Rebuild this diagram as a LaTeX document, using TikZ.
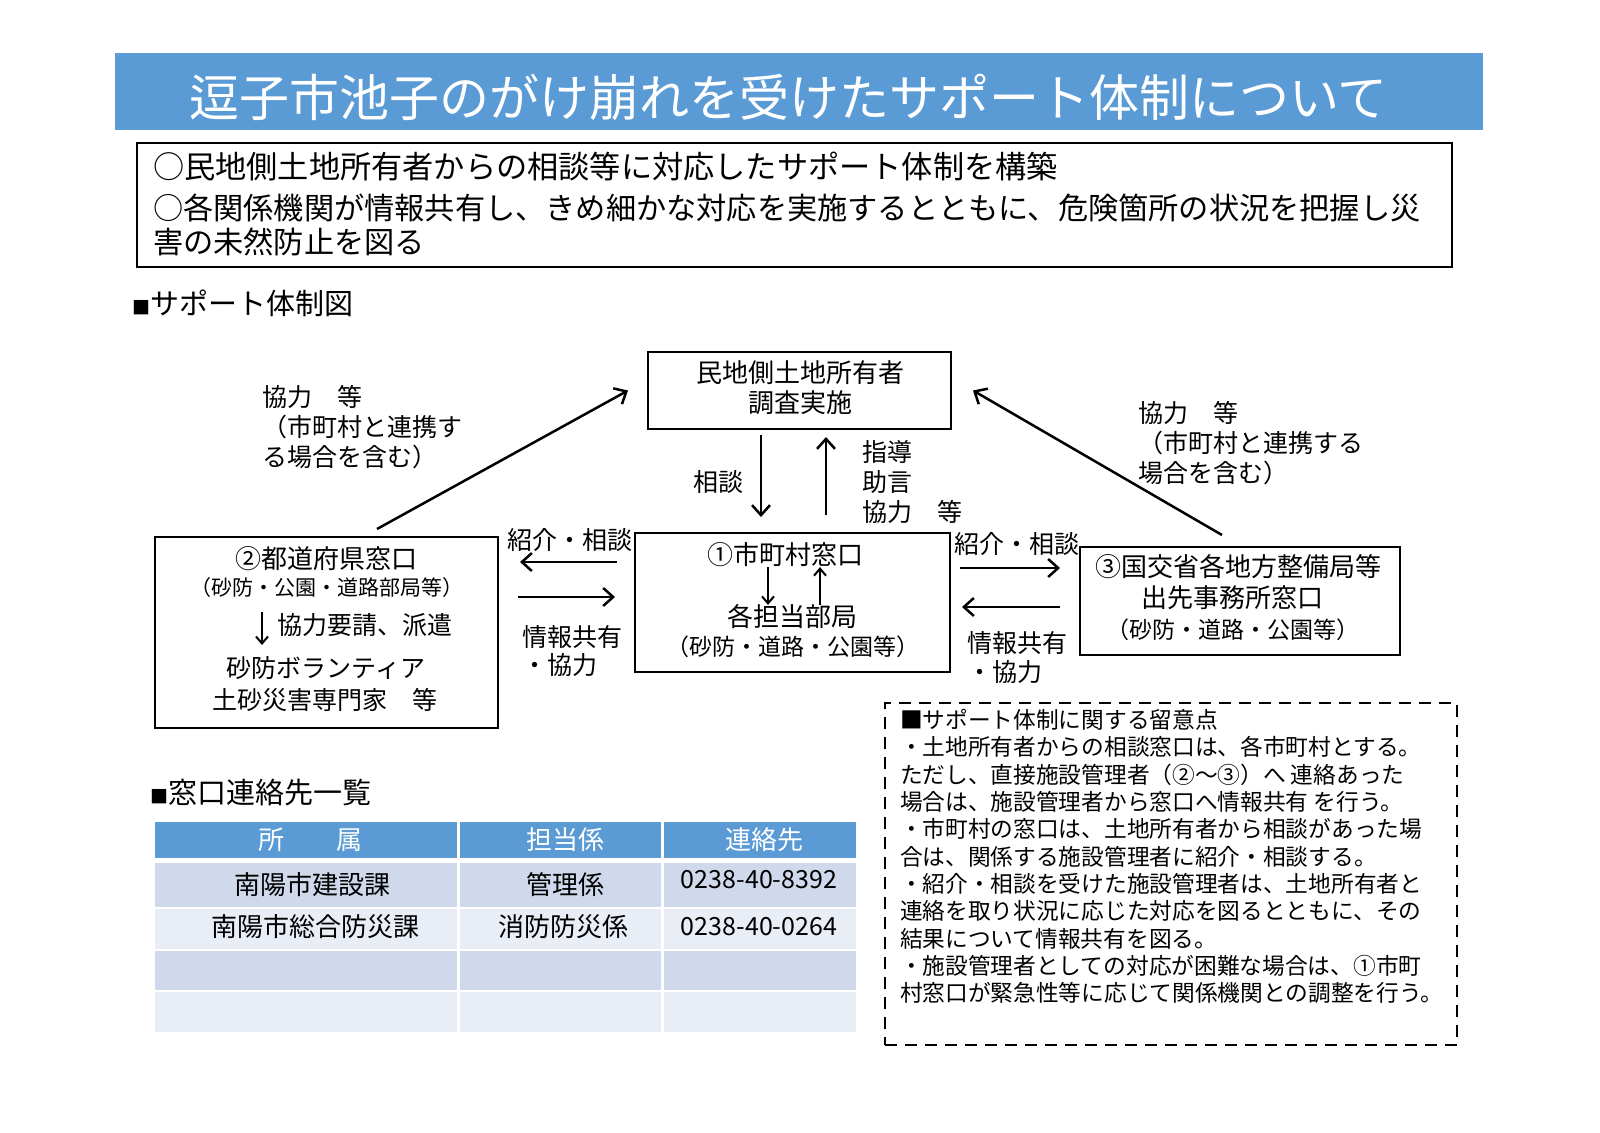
\documentclass[tikz,border=0pt]{standalone}
\usepackage{fontspec}
\setmainfont{Noto Sans CJK JP}
\usetikzlibrary{arrows.meta}
\definecolor{hblue}{RGB}{91,155,213}
\definecolor{rowA}{RGB}{207,217,235}
\definecolor{rowB}{RGB}{232,237,246}
\newcommand\fsz[2]{\fontsize{#1}{#2}\selectfont}
\begin{document}
\begin{tikzpicture}[x=1pt,y=-1pt,
  box/.style={draw,line width=2.8pt,rectangle,inner sep=0pt,outer sep=0pt},
  txt/.style={inner sep=0pt,outer sep=0pt},
  arr/.style={line width=2.5pt,-{Straight Barb[length=10pt,width=18pt]}},
  sarr/.style={line width=2pt,-{Straight Barb[length=7pt,width=12pt]}},
  lbl/.style={txt,font=\fsz{25}{30}},
]
\useasboundingbox[fill=white] (0,0) rectangle (1600,1132);

% title
\node[fill=hblue,inner sep=0pt,outer sep=0pt,minimum width=1368pt,minimum height=77pt,anchor=north west] (titlebar) at (115,53) {};
\node[txt,anchor=west,text=white] (title) at (189,97) {\fsz{50}{55}逗子市池子のがけ崩れを受けたサポート体制について};

% intro
\node[box,anchor=north west,minimum width=1315pt,minimum height=124pt] (intro) at (137,143) {};
\node[txt,anchor=west,align=left,font=\fsz{30.2}{34}] (introtext) at (153,203.5) {{\fsz{31.2}{34}○民地側土地所有者からの相談等に対応したサポート体制を構築}\\[7pt]○各関係機関が情報共有し、きめ細かな対応を実施するとともに、危険箇所の状況を把握し災\\害の未然防止を図る};

\node[txt,anchor=west] (head1) at (132,303) {{\fsz{18}{20}■}\fsz{29}{32}サポート体制図};

% boxes
\node[box,minimum width=303pt,minimum height=77pt] (owner) at (799.5,390.5) {};
\node[txt,align=center,font=\fsz{26}{30}] (ownert) at (800,388) {民地側土地所有者\\調査実施};

\node[box,minimum width=315pt,minimum height=139pt] (muni) at (792.5,602.5) {};
\node[txt] (m1) at (785,555) {\fsz{26}{30}①市町村窓口};
\node[txt] (m2) at (792,617) {\fsz{26}{30}各担当部局};
\node[txt] (m3) at (793,647) {\fsz{23}{28}（砂防・道路・公園等）};
\draw[sarr] ([xshift=-17pt]m1.south) -- ([xshift=-24pt]m2.north);
\draw[sarr] ([xshift=28pt]m2.north) -- ([xshift=35pt]m1.south);

\node[box,minimum width=343pt,minimum height=191pt] (pref) at (326.5,632.5) {};
\node[txt] (p1) at (326,559) {\fsz{26}{30}②都道府県窓口};
\node[txt] (p2) at (327,588) {\fsz{21}{25}（砂防・公園・道路部局等）};
\node[txt,anchor=west] (p3) at (277,625) {\fsz{25}{30}協力要請、派遣};
\node[txt] (p4) at (326,668) {\fsz{25}{30}砂防ボランティア};
\node[txt] (p5) at (325,700) {\fsz{25}{30}土砂災害専門家　等};
\draw[sarr] ([xshift=-15pt,yshift=13pt]p3.west) -- ([xshift=-15pt,yshift=-20pt]p3.west);

\node[box,minimum width=320pt,minimum height=108pt] (nat) at (1240,601) {};
\node[txt] (n1) at (1238,567) {\fsz{26}{30}③国交省各地方整備局等};
\node[txt] (n2) at (1232,598) {\fsz{26}{30}出先事務所窓口};
\node[txt] (n3) at (1233,630) {\fsz{23}{28}（砂防・道路・公園等）};

% connectors
\draw[arr] ([xshift=50.5pt,yshift=8pt]pref.north) -- ([xshift=-20pt]owner.west);
\draw[arr] ([xshift=-18pt,yshift=12pt]nat.north) -- ([xshift=22pt]owner.east);
\draw[arr] ([xshift=-38.5pt,yshift=-6pt]owner.south) -- ([xshift=-31.5pt,yshift=16pt]muni.north);
\draw[arr] ([xshift=33.5pt,yshift=18pt]muni.north) -- ([xshift=26.5pt,yshift=-8pt]owner.south);
\draw[arr] ([xshift=-18pt,yshift=40.5pt]muni.west) -- ([xshift=22pt,yshift=70.5pt]pref.east);
\draw[arr] ([xshift=20pt,yshift=35.5pt]pref.east) -- ([xshift=-20pt,yshift=5.5pt]muni.west);
\draw[arr] ([xshift=10pt,yshift=34.5pt]muni.east) -- ([xshift=-20pt,yshift=33pt]nat.west);
\draw[arr] ([xshift=-20pt,yshift=-6pt]nat.west) -- ([xshift=12pt,yshift=-4.5pt]muni.east);

% labels
\node[lbl,anchor=west,align=left] (lab1) at (262,427.5) {協力　等\\（市町村と連携す\\る場合を含む）};
\node[lbl,anchor=west,align=left] (lab2) at (1138,443) {協力　等\\（市町村と連携する\\場合を含む）};
\node[lbl] (lab3) at (718,482) {相談};
\node[lbl,anchor=west,align=left] (lab4) at (862,482) {指導\\助言\\協力　等};
\node[lbl,anchor=west] (lab5) at (507,540) {紹介・相談};
\node[lbl,anchor=west,align=left,font=\fsz{25}{28}] (lab6) at (522,651) {情報共有\\・協力};
\node[lbl,anchor=west] (lab7) at (954,544) {紹介・相談};
\node[lbl,anchor=west,align=left,font=\fsz{25}{29}] (lab8) at (967,657.5) {情報共有\\・協力};

% notes
\node[draw,line width=2.5pt,dash pattern=on 12pt off 8pt,inner sep=0pt,outer sep=0pt,minimum width=572pt,minimum height=342pt,anchor=north west] (notes) at (885,703) {};
\node[txt,anchor=west,align=left,font=\fsz{22.7}{27.3}] (notestext) at (900,856.5) {■サポート体制に関する留意点\\
・土地所有者からの相談窓口は、各市町村とする。\\
ただし、直接施設管理者（②～③）へ 連絡あった\\
場合は、施設管理者から窓口へ情報共有 を行う。\\
・市町村の窓口は、土地所有者から相談があった場\\
合は、関係する施設管理者に紹介・相談する。\\
・紹介・相談を受けた施設管理者は、土地所有者と\\
連絡を取り状況に応じた対応を図るとともに、その\\
結果について情報共有を図る。\\
・施設管理者としての対応が困難な場合は、①市町\\
村窓口が緊急性等に応じて関係機関との調整を行う。};

% table
\node[txt,anchor=west] (head2) at (150,793) {{\fsz{18}{20}■}\fsz{29}{32}窓口連絡先一覧};
\fill[hblue] (155,822) rectangle (856,858);
\fill[rowA] (155,863) rectangle (856,907);
\fill[rowB] (155,909) rectangle (856,949);
\fill[rowA] (155,951) rectangle (856,990);
\fill[rowB] (155,992) rectangle (856,1032);
\draw[white,line width=3pt] (458.5,820) -- (458.5,1034);
\draw[white,line width=3pt] (662.5,820) -- (662.5,1034);
\node[txt,text=white] (th1) at (310,840) {\fsz{26}{30}所　　属};
\node[txt,text=white] (th2) at (565,840) {\fsz{26}{30}担当係};
\node[txt,text=white] (th3) at (764,840) {\fsz{26}{30}連絡先};
\node[txt] (r11) at (312,885) {\fsz{26}{30}南陽市建設課};
\node[txt] (r12) at (565,885) {\fsz{26}{30}管理係};
\node[txt] (r13) at (759,880) {\fsz{25}{30}0238-40-8392};
\node[txt] (r21) at (315,927) {\fsz{26}{30}南陽市総合防災課};
\node[txt] (r22) at (563,927) {\fsz{26}{30}消防防災係};
\node[txt] (r23) at (759,926.5) {\fsz{25}{30}0238-40-0264};
\end{tikzpicture}
\end{document}
